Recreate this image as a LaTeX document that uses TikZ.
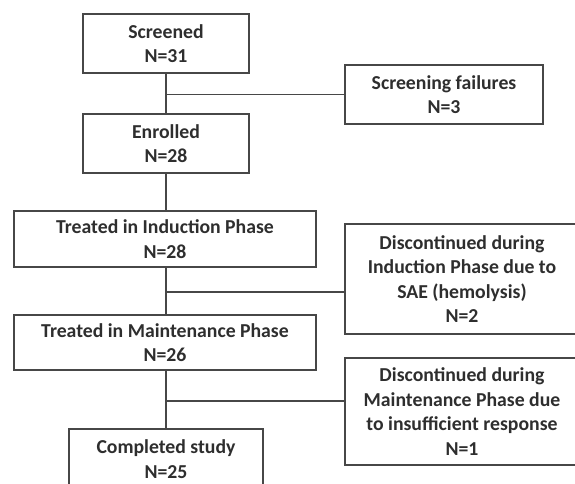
\documentclass[tikz,border=0pt]{standalone}
\usepackage{fontspec}
\setmainfont{Carlito}
\definecolor{linec}{HTML}{474747}
\definecolor{textc}{HTML}{2E2E2E}
\begin{document}
\begin{tikzpicture}[x=0.75pt,y=-0.75pt,
  boxst/.style={draw=linec,line width=1.3pt,fill=white,align=center,inner sep=0pt,
    font=\fontsize{14.8}{18.3}\selectfont\bfseries,text=textc},
  conn/.style={draw=linec,line width=1.3pt}]
\useasboundingbox (0,0) rectangle (575,483);
\clip (0,0) rectangle (575,483);
% boxes: centre at ((x1+x2)/2,(y1+y2)/2), size (x2-x1)x(y2-y1)
\node[boxst,minimum width=166*0.75pt,minimum height=59*0.75pt] (scr) at (166,43.5) {Screened\\N=31};
\node[boxst,minimum width=198*0.75pt,minimum height=59*0.75pt] (sf) at (444,94.5) {Screening failures\\N=3};
\node[boxst,minimum width=166*0.75pt,minimum height=59*0.75pt] (enr) at (166,143.5) {Enrolled\\N=28};
\node[boxst,minimum width=302*0.75pt,minimum height=56*0.75pt] (ind) at (165,239) {Treated in Induction Phase\\N=28};
\node[boxst,minimum width=234*0.75pt,minimum height=110*0.75pt] (dind) at (462,279) {Discontinued during\\Induction Phase due to\\SAE (hemolysis)\\N=2};
\node[boxst,minimum width=302*0.75pt,minimum height=55*0.75pt] (mnt) at (165,342.5) {Treated in Maintenance Phase\\N=26};
\node[boxst,minimum width=234*0.75pt,minimum height=107*0.75pt] (dmnt) at (462,411.5) {Discontinued during\\Maintenance Phase due\\to insufficient response\\N=1};
\node[boxst,minimum width=194*0.75pt,minimum height=60*0.75pt] (cmp) at (166,459) {Completed study\\N=25};
% junctions
\coordinate (j1) at (166,94.5);
\coordinate (j2) at (166,292);
\coordinate (j3) at (166,401);
\draw[conn] (scr.south) -- (enr.north);
\draw[conn] (j1) -- (sf.west);
\draw[conn] (enr.south) -- (enr.south |- ind.north);
\draw[conn] (enr.south |- ind.south) -- (enr.south |- mnt.north);
\draw[conn] (j2) -- (j2 -| dind.west);
\draw[conn] (enr.south |- mnt.south) -- (cmp.north);
\draw[conn] (j3) -- (j3 -| dmnt.west);
\end{tikzpicture}
\end{document}
